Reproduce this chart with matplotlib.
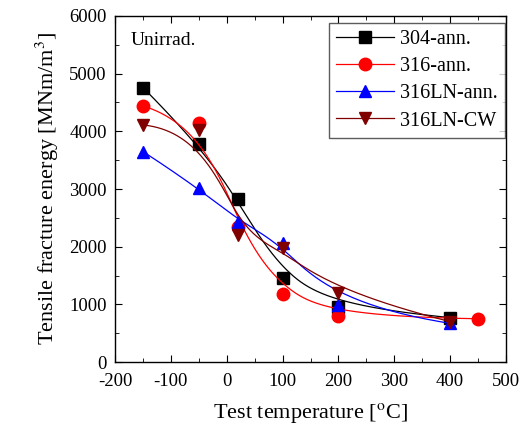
import numpy as np
import matplotlib
matplotlib.use("Agg")
import matplotlib.pyplot as plt
from matplotlib.ticker import MultipleLocator

plt.rcParams['font.family'] = ['Liberation Serif', 'DejaVu Serif']
plt.rcParams['mathtext.fontset'] = 'stix'
plt.rcParams['axes.unicode_minus'] = False

# data
temp_304 = [-150, -50, 20, 100, 200, 400]
energy_304 = [4760, 3780, 2820, 1450, 960, 770]
temp_316 = [-150, -50, 20, 100, 200, 450]
energy_316 = [4440, 4150, 2340, 1180, 790, 750]
temp_316ln = [-150, -50, 20, 100, 200, 400]
energy_316ln = [3650, 3020, 2430, 2070, 980, 670]
temp_316cw = [-150, -50, 20, 100, 200, 400]
energy_316cw = [4110, 4020, 2210, 1970, 1190, 700]


def bspline(x, y, n=200):
    # clamped cubic B-spline using the data points as control points
    P = np.column_stack([x, y]).astype(float)
    k = 3
    m = len(P)
    knots = np.concatenate([[0] * (k + 1), np.arange(1, m - k), [m - k] * (k + 1)]).astype(float)
    t = np.linspace(0, m - k, n)
    t[-1] -= 1e-9

    def basis(i, p, tt):
        if p == 0:
            return ((knots[i] <= tt) & (tt < knots[i + 1])).astype(float)
        a = 0.0
        d1 = knots[i + p] - knots[i]
        if d1 > 0:
            a = (tt - knots[i]) / d1 * basis(i, p - 1, tt)
        b = 0.0
        d2 = knots[i + p + 1] - knots[i + 1]
        if d2 > 0:
            b = (knots[i + p + 1] - tt) / d2 * basis(i + 1, p - 1, tt)
        return a + b

    C = sum(basis(i, k, t)[:, None] * P[i] for i in range(m))
    return C[:, 0], C[:, 1]


fig = plt.figure(figsize=(5.31, 4.37), dpi=100)
ax = fig.add_axes([0.2166, 0.1716, 0.7364, 0.7918])

series = [
    (temp_304, energy_304, 'black', 's', '304-ann.', 8),
    (temp_316, energy_316, 'red', 'o', '316-ann.', 9),
    (temp_316ln, energy_316ln, 'blue', '^', '316LN-ann.', 9),
    (temp_316cw, energy_316cw, '#800000', 'v', '316LN-CW', 9),
]

for x, y, c, m, lab, ms in series:
    xs, ys = bspline(x, y)
    ax.plot(xs, ys, color=c, lw=0.9)
    ax.plot(x, y, linestyle='none', marker=m, color=c, markersize=ms)
    ax.plot([], [], color=c, lw=0.9, marker=m, markersize=ms, label=lab)

ax.set_xlim(-200, 500)
ax.set_ylim(0, 6000)
ax.xaxis.set_major_locator(MultipleLocator(100))
ax.xaxis.set_minor_locator(MultipleLocator(50))
ax.yaxis.set_major_locator(MultipleLocator(1000))
ax.yaxis.set_minor_locator(MultipleLocator(500))
ax.tick_params(which='both', direction='in', top=True, right=True, labelsize=13.5)
ax.tick_params(axis='x', pad=8)
ax.tick_params(axis='y', pad=6)
ax.tick_params(which='major', length=5)
ax.tick_params(which='minor', length=3)
for s in ax.spines.values():
    s.set_linewidth(1.0)

ax.set_xlabel('Test temperature [$^{\\mathrm{o}}$C]', fontsize=16, labelpad=8)
ax.set_ylabel('Tensile fracture energy [MNm/m$^{3}$]', fontsize=16, labelpad=6)
ax.text(0.04, 0.93, 'Unirrad.', transform=ax.transAxes, fontsize=14, va='center')

leg = ax.legend(loc='upper right', bbox_to_anchor=(0.998, 0.98), fontsize=14.5,
                frameon=True, fancybox=False, edgecolor='#333333',
                handlelength=2.9, handletextpad=0.3, borderpad=0.35,
                labelspacing=0.4, borderaxespad=0)
leg.get_frame().set_linewidth(1.0)

fig.savefig('out.png', dpi=100)
